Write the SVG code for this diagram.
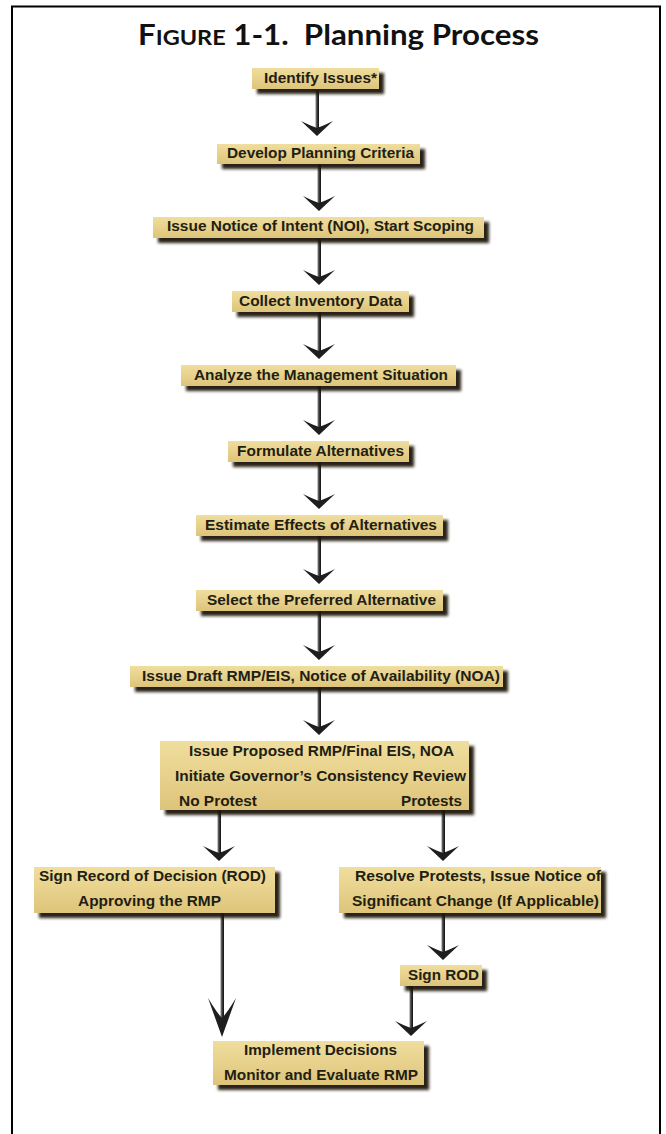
<svg xmlns="http://www.w3.org/2000/svg" xmlns:xlink="http://www.w3.org/1999/xlink" width="666" height="1134" viewBox="0 0 666 1134">
<style>
.box{fill:url(#boxFill);filter:url(#shadow)}
.lbl{font-family:"Liberation Sans",Arial,sans-serif;font-weight:bold;font-size:15.5px;fill:#221e12}
.title{font-family:Lato,"Liberation Sans",sans-serif;font-weight:bold;font-size:28px;fill:#111}
.shaft{fill:url(#shaftFill)}
.head{fill:#1e1e1e}
</style>
<defs>
<linearGradient id="boxFill" x1="0" y1="0" x2="0" y2="1">
<stop offset="0" stop-color="#F0DE9E"/>
<stop offset="1" stop-color="#DEC47A"/>
</linearGradient>
<linearGradient id="shaftFill" x1="0" y1="0" x2="1" y2="0">
<stop offset="0" stop-color="#8a8a8a"/>
<stop offset="0.5" stop-color="#3a3a3a"/>
<stop offset="1" stop-color="#111"/>
</linearGradient>
<filter id="shadow" x="-10%" y="-30%" width="130%" height="180%">
<feGaussianBlur in="SourceAlpha" stdDeviation="1.8"/>
<feOffset dx="4.5" dy="4.5" result="b"/>
<feFlood flood-color="#1e170a" flood-opacity="0.95"/>
<feComposite in2="b" operator="in"/>
<feMerge><feMergeNode/><feMergeNode in="SourceGraphic"/></feMerge>
</filter>
<path id="head" d="M0,0 L-16,-15 Q-6,-10 0,-8 Q6,-10 16,-15 Z"/>
<path id="headLong" d="M0,0 L-14,-39 Q-5,-24 0,-19 Q5,-24 14,-39 Z"/>
</defs>
<rect x="0" y="0" width="666" height="1134" fill="#fff"/>
<g id="frame" fill="none" stroke="#000" stroke-width="2">
<path d="M12,1134 V6.5 H660 V1134"/>
</g>
<text class="title" x="138" y="45" textLength="401" lengthAdjust="spacingAndGlyphs">F<tspan font-size="21">IGURE</tspan> 1-1.&#160; Planning Process</text>

<g id="connectors">
<rect class="shaft" x="315.5" y="90" width="3.5" height="40"/><use xlink:href="#head" class="head" x="317" y="136"/>
<rect class="shaft" x="317.5" y="163" width="3.5" height="41"/><use xlink:href="#head" class="head" x="319" y="211"/>
<rect class="shaft" x="317.5" y="239" width="3.5" height="41"/><use xlink:href="#head" class="head" x="319" y="285"/>
<rect class="shaft" x="317.5" y="312" width="3.5" height="42"/><use xlink:href="#head" class="head" x="319" y="359"/>
<rect class="shaft" x="317.5" y="386" width="3.5" height="43"/><use xlink:href="#head" class="head" x="319" y="435"/>
<rect class="shaft" x="317.5" y="462" width="3.5" height="41"/><use xlink:href="#head" class="head" x="319" y="509"/>
<rect class="shaft" x="317.5" y="536" width="3.5" height="42"/><use xlink:href="#head" class="head" x="319" y="584"/>
<rect class="shaft" x="317.5" y="611" width="3.5" height="43"/><use xlink:href="#head" class="head" x="319" y="660"/>
<rect class="shaft" x="317.5" y="687" width="3.5" height="42"/><use xlink:href="#head" class="head" x="319" y="735"/>
<rect class="shaft" x="217.5" y="810" width="3.5" height="44"/><use xlink:href="#head" class="head" x="219" y="861"/>
<rect class="shaft" x="441.5" y="810" width="3.5" height="44"/><use xlink:href="#head" class="head" x="443" y="861"/>
<rect class="shaft" x="441.5" y="913" width="3.5" height="41"/><use xlink:href="#head" class="head" x="443" y="960"/>
<rect class="shaft" x="409.5" y="986" width="3.5" height="43"/><use xlink:href="#head" class="head" x="411" y="1036"/>
<rect class="shaft" x="220.5" y="913" width="3.5" height="105"/><use xlink:href="#headLong" class="head" x="222" y="1037"/>
</g>

<g id="n1"><rect class="box" x="252" y="68" width="127" height="21"/><text class="lbl" x="264" y="83" textLength="113" lengthAdjust="spacingAndGlyphs">Identify Issues*</text></g>
<g id="n2"><rect class="box" x="217" y="144" width="203" height="20"/><text class="lbl" x="227" y="158" textLength="187" lengthAdjust="spacingAndGlyphs">Develop Planning Criteria</text></g>
<g id="n3"><rect class="box" x="153" y="217" width="331" height="21"/><text class="lbl" x="167" y="231" textLength="307" lengthAdjust="spacingAndGlyphs">Issue Notice of Intent (NOI), Start Scoping</text></g>
<g id="n4"><rect class="box" x="232" y="291" width="177" height="21"/><text class="lbl" x="239" y="306" textLength="163" lengthAdjust="spacingAndGlyphs">Collect Inventory Data</text></g>
<g id="n5"><rect class="box" x="181" y="365" width="275" height="21"/><text class="lbl" x="194" y="380" textLength="254" lengthAdjust="spacingAndGlyphs">Analyze the Management Situation</text></g>
<g id="n6"><rect class="box" x="228" y="441" width="181" height="21"/><text class="lbl" x="237" y="456" textLength="167" lengthAdjust="spacingAndGlyphs">Formulate Alternatives</text></g>
<g id="n7"><rect class="box" x="196" y="515" width="247" height="21"/><text class="lbl" x="205" y="530" textLength="232" lengthAdjust="spacingAndGlyphs">Estimate Effects of Alternatives</text></g>
<g id="n8"><rect class="box" x="196" y="590" width="247" height="21"/><text class="lbl" x="207" y="605" textLength="229" lengthAdjust="spacingAndGlyphs">Select the Preferred Alternative</text></g>
<g id="n9"><rect class="box" x="130" y="666" width="373" height="21"/><text class="lbl" x="142" y="681" textLength="358" lengthAdjust="spacingAndGlyphs">Issue Draft RMP/EIS, Notice of Availability (NOA)</text></g>
<g id="n10"><rect class="box" x="160" y="741" width="309" height="69"/>
<text class="lbl" x="189" y="756" textLength="265" lengthAdjust="spacingAndGlyphs">Issue Proposed RMP/Final EIS, NOA</text>
<text class="lbl" x="175" y="781" textLength="291" lengthAdjust="spacingAndGlyphs">Initiate Governor’s Consistency Review</text>
<text class="lbl" x="179" y="806" textLength="78" lengthAdjust="spacingAndGlyphs">No Protest</text>
<text class="lbl" x="401" y="806" textLength="61" lengthAdjust="spacingAndGlyphs">Protests</text></g>
<g id="n11"><rect class="box" x="34" y="867" width="241" height="46"/>
<text class="lbl" x="39" y="881" textLength="227" lengthAdjust="spacingAndGlyphs">Sign Record of Decision (ROD)</text>
<text class="lbl" x="78" y="906" textLength="143" lengthAdjust="spacingAndGlyphs">Approving the RMP</text></g>
<g id="n12"><rect class="box" x="339" y="867" width="262" height="46"/>
<text class="lbl" x="355" y="881" textLength="246" lengthAdjust="spacingAndGlyphs">Resolve Protests, Issue Notice of</text>
<text class="lbl" x="352" y="906" textLength="247" lengthAdjust="spacingAndGlyphs">Significant Change (If Applicable)</text></g>
<g id="n13"><rect class="box" x="400" y="965" width="82" height="21"/><text class="lbl" x="408" y="980" textLength="71" lengthAdjust="spacingAndGlyphs">Sign ROD</text></g>
<g id="n14"><rect class="box" x="213" y="1041" width="211" height="44"/>
<text class="lbl" x="244" y="1055" textLength="153" lengthAdjust="spacingAndGlyphs">Implement Decisions</text>
<text class="lbl" x="224" y="1080" textLength="194" lengthAdjust="spacingAndGlyphs">Monitor and Evaluate RMP</text></g>
</svg>
